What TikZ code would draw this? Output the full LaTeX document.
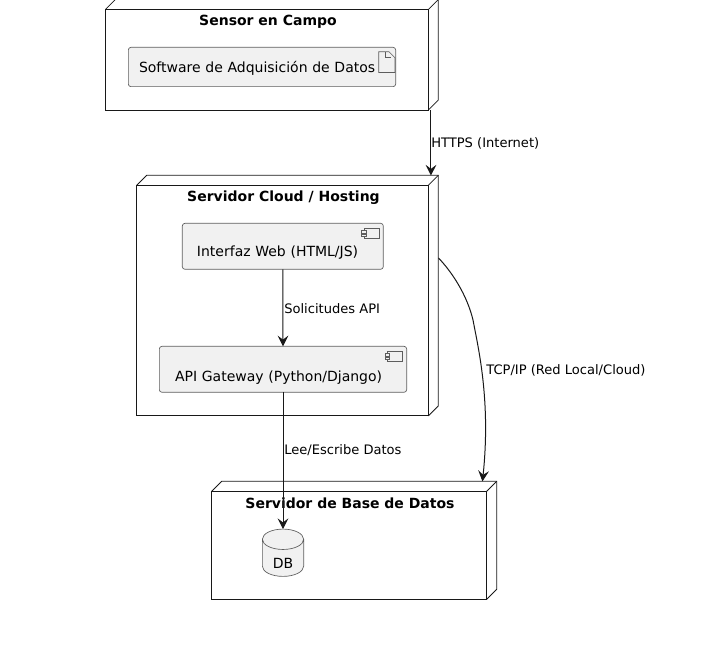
\documentclass[tikz,border=0pt]{standalone}
\usepackage{fontspec}
\setmainfont{DejaVu Sans}
\usetikzlibrary{arrows.meta,shapes.geometric}
\definecolor{linec}{HTML}{181818}
\definecolor{boxfill}{HTML}{F1F1F1}
\tikzset{
	nodebox/.style={draw=linec, line width=0.75pt, inner sep=0, outer sep=0},
	nodeedge/.style={draw=linec, line width=0.6pt},
	title/.style={font=\fontsize{10.5}{12}\selectfont\bfseries, inner sep=0, anchor=base},
	partbox/.style={draw=linec!70, line width=0.5pt, fill=boxfill, rounded corners=2pt, outer sep=0, inner ysep=0, align=left, font=\fontsize{10.5}{12}\selectfont},
	icon/.style={draw=linec!70, line width=0.5pt, fill=boxfill},
	flow/.style={draw=linec, line width=0.75pt, -{Stealth[length=8pt, width=8pt, inset=3pt]}},
	flowlabel/.style={font=\fontsize{9.8}{12}\selectfont, inner sep=0, anchor=base west},
}
\begin{document}
\begin{tikzpicture}[x=0.75pt, y=-0.75pt]
	\useasboundingbox (0, 0) rectangle (723, 652);
	% outer boxes
	\node[nodebox, minimum width=242.25pt, minimum height=75.4pt] (sensor) at (266.8, 59.8) {};
	\node[nodebox, minimum width=218.7pt, minimum height=173pt] (cloud) at (282.5, 300.6) {};
	\node[nodebox, minimum width=206.25pt, minimum height=81pt] (dbnode) at (349.2, 545.3) {};
	\foreach \n in {sensor, cloud, dbnode} {
		\draw[nodeedge] (\n.north west) -- ++(10, -10) -- ([xshift=7.5pt, yshift=7.5pt]\n.north east) -- ([xshift=7.5pt, yshift=7.5pt]\n.south east) -- (\n.south east);
		\draw[nodeedge] (\n.north east) -- ([xshift=7.5pt, yshift=7.5pt]\n.north east);
	}
	\node[title] (sensortitle) at (268, 25.5) {Sensor en Campo};
	\node[title] (cloudtitle) at (283.5, 201.5) {Servidor Cloud / Hosting};
	\node[title] (dbtitle) at (350, 508.5) {Servidor de Base de Datos};
	% inner parts
	\node[partbox, minimum width=200.5pt, minimum height=29.5pt, inner xsep=8pt, text width=184.5pt, text height=10pt, text depth=1pt] (soft) at (262, 67) {Software de Adquisición de Datos};
	\node[partbox, minimum width=150.75pt, minimum height=34.5pt, inner xsep=11pt, text width=128.75pt, text height=16.5pt, text depth=0.5pt] (iweb) at (282.8, 246.3) {Interfaz Web (HTML/JS)};
	\node[partbox, minimum width=185.5pt, minimum height=34.5pt, inner xsep=11.8pt, text width=161.9pt, text height=18.75pt, text depth=0.5pt] (api) at (283, 369.3) {API Gateway (Python/Django)};
	\node[cylinder, shape border rotate=90, aspect=1, draw=linec!70, line width=0.5pt, cylinder uses custom fill, cylinder body fill=boxfill, cylinder end fill=boxfill, minimum width=31pt, minimum height=34.8pt, inner sep=0, outer sep=0, text height=12.3pt, text depth=0pt, font=\fontsize{10.5}{12}\selectfont] (db) at (283, 558) {\raisebox{-1.4pt}{DB}};
	% icons
	\draw[icon] ([xshift=-12.75pt, yshift=-3.3pt]soft.north east) -- ++(10.3, 0) -- ++(6, 6) -- ++(0, 14.8) -- ++(-16.3, 0) -- cycle;
	\draw[icon] ([xshift=-3.5pt, yshift=-3.3pt]soft.north east) ++(-6, 0) -- ++(0, 6) -- ++(6, 0);
	\foreach \n in {iweb, api} {
		\draw[icon] ([xshift=-14.5pt, yshift=-3.5pt]\n.north east) rectangle ++(15, 10.7);
		\draw[icon] ([xshift=-16.2pt, yshift=-5.5pt]\n.north east) rectangle ++(4.6, 2.4);
		\draw[icon] ([xshift=-16.2pt, yshift=-8.2pt]\n.north east) rectangle ++(4.6, 2.4);
	}
	% connectors
	\draw[flow] ([xshift=2pt]sensor.south east) -- ([xshift=2pt, yshift=7.3pt]cloud.north east);
	\draw[flow] (iweb.south) -- (api.north);
	\draw[flow] (api.south) -- (db.top);
	\draw[flow] ([xshift=7.6pt, yshift=32pt]cloud.east) .. controls (452, 272) and (467, 295) .. (473, 320)
		.. controls (478, 347) and (491, 400) .. ([xshift=-3.2pt, yshift=7.4pt]dbnode.north east);
	\node[flowlabel] (httpslabel) at (431, 147.5) {HTTPS (Internet)};
	\node[flowlabel] (apilabel) at (284, 313) {Solicitudes API};
	\node[flowlabel] (tcplabel) at (486, 374) {TCP/IP (Red Local/Cloud)};
	\node[flowlabel] (dblabel) at (284, 454.5) {Lee/Escribe Datos};
\end{tikzpicture}
\end{document}
